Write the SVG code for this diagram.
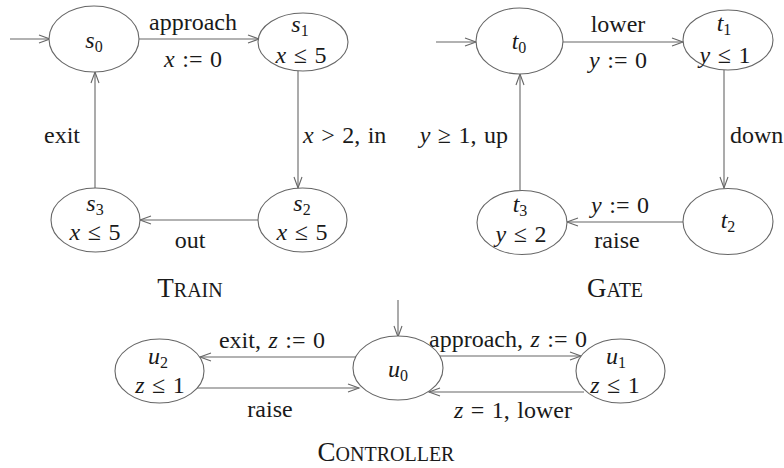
<svg xmlns="http://www.w3.org/2000/svg" width="784" height="468" viewBox="0 0 784 468" font-family="'Liberation Serif', 'DejaVu Serif', 'Times New Roman', serif">
<style>
text{font-family:'Liberation Serif','DejaVu Serif','Times New Roman',serif;font-size:24px;fill:#1a1a1a}
.m{text-anchor:middle}
.e{text-anchor:end}
.i{font-style:italic}
.w{word-spacing:1.5px}
.sub{font-size:16px}
.t{font-size:27px}
.sc{font-size:20px}
ellipse{fill:#fff;stroke:#666;stroke-width:1.1}
.c line{stroke:#666;stroke-width:1.1;marker-end:url(#a)}
</style>
<defs>
<marker id="a" markerUnits="userSpaceOnUse" markerWidth="14" markerHeight="12" viewBox="-12 -6 14 12" refX="0" refY="0" orient="auto">
<path d="M-11,-4 L0,0 L-11,4" fill="none" stroke="#666" stroke-width="1.1"/>
</marker>
</defs>
<rect width="784" height="468" fill="#fff"/>
<g class="c" id="connectors">
<line x1="10" y1="39" x2="50" y2="39"/>
<line x1="139" y1="39" x2="259" y2="39"/>
<line x1="298" y1="71" x2="298" y2="188"/>
<line x1="258" y1="220" x2="140" y2="220"/>
<line x1="95" y1="188" x2="95" y2="72"/>
<line x1="436" y1="42" x2="476" y2="42"/>
<line x1="563" y1="42" x2="683" y2="42"/>
<line x1="724" y1="70" x2="724" y2="188"/>
<line x1="683" y1="222" x2="567" y2="222"/>
<line x1="520" y1="190" x2="520" y2="74"/>
<line x1="398" y1="300" x2="398" y2="337"/>
<line x1="356" y1="357" x2="200" y2="357"/>
<line x1="197" y1="388" x2="359" y2="388"/>
<line x1="440" y1="356" x2="581" y2="356"/>
<line x1="584" y1="392" x2="429" y2="392"/>
</g>
<g id="edge-labels">
<text class="m" x="193" y="30">approach</text>
<text class="m w" x="193" y="67"><tspan class="i">x</tspan> := 0</text>
<text class="w" x="303" y="143"><tspan class="i">x</tspan> &gt; 2, in</text>
<text class="m" x="190" y="248">out</text>
<text class="m" x="62" y="143">exit</text>
<text class="m" x="618" y="32">lower</text>
<text class="m w" x="618" y="68"><tspan class="i">y</tspan> := 0</text>
<text x="730" y="143">down</text>
<text class="m w" x="620" y="213"><tspan class="i">y</tspan> := 0</text>
<text class="m" x="617" y="248">raise</text>
<text class="e w" x="508" y="143"><tspan class="i">y</tspan> ≥ 1, up</text>
<text class="m w" x="272" y="348">exit, <tspan class="i">z</tspan> := 0</text>
<text class="m" x="270" y="417">raise</text>
<text class="m w" x="508" y="347">approach, <tspan class="i">z</tspan> := 0</text>
<text class="m w" x="513" y="418"><tspan class="i">z</tspan> = 1, lower</text>
</g>
<g id="s0"><ellipse cx="94" cy="39" rx="45" ry="33"/><text class="m" x="94" y="48"><tspan class="i">s</tspan><tspan class="sub" dy="4">0</tspan></text></g>
<g id="s1"><ellipse cx="303" cy="42" rx="45" ry="29"/><text class="m" x="300" y="32"><tspan class="i">s</tspan><tspan class="sub" dy="4">1</tspan></text><text class="m w" x="301" y="63"><tspan class="i">x</tspan> ≤ 5</text></g>
<g id="s2"><ellipse cx="302.5" cy="220" rx="44.5" ry="32"/><text class="m" x="302" y="211"><tspan class="i">s</tspan><tspan class="sub" dy="4">2</tspan></text><text class="m w" x="302" y="240"><tspan class="i">x</tspan> ≤ 5</text></g>
<g id="s3"><ellipse cx="95.5" cy="220" rx="44.5" ry="32"/><text class="m" x="95" y="211"><tspan class="i">s</tspan><tspan class="sub" dy="4">3</tspan></text><text class="m w" x="95" y="240"><tspan class="i">x</tspan> ≤ 5</text></g>
<g id="t0"><ellipse cx="519.5" cy="41" rx="43.5" ry="33"/><text class="m" x="519" y="49"><tspan class="i">t</tspan><tspan class="sub" dy="4">0</tspan></text></g>
<g id="t1"><ellipse cx="728" cy="40" rx="45" ry="30"/><text class="m" x="724" y="31"><tspan class="i">t</tspan><tspan class="sub" dy="4">1</tspan></text><text class="m w" x="725" y="63"><tspan class="i">y</tspan> ≤ 1</text></g>
<g id="t2"><ellipse cx="728" cy="221.5" rx="45" ry="33"/><text class="m" x="728" y="228"><tspan class="i">t</tspan><tspan class="sub" dy="4">2</tspan></text></g>
<g id="t3"><ellipse cx="522" cy="222.5" rx="45" ry="32"/><text class="m" x="520" y="212"><tspan class="i">t</tspan><tspan class="sub" dy="4">3</tspan></text><text class="m w" x="521" y="242"><tspan class="i">y</tspan> ≤ 2</text></g>
<g id="u0"><ellipse cx="398" cy="368" rx="45" ry="32"/><text class="m" x="398" y="377"><tspan class="i">u</tspan><tspan class="sub" dy="4">0</tspan></text></g>
<g id="u1"><ellipse cx="620.5" cy="371" rx="44.5" ry="32"/><text class="m" x="616" y="364"><tspan class="i">u</tspan><tspan class="sub" dy="4">1</tspan></text><text class="m w" x="615" y="393"><tspan class="i">z</tspan> ≤ 1</text></g>
<g id="u2"><ellipse cx="159.5" cy="371" rx="44.5" ry="32"/><text class="m" x="158" y="364"><tspan class="i">u</tspan><tspan class="sub" dy="4">2</tspan></text><text class="m w" x="160" y="393"><tspan class="i">z</tspan> ≤ 1</text></g>
<g id="titles">
<text class="m t" x="190" y="297">T<tspan class="sc">RAIN</tspan></text>
<text class="m t" x="615" y="297">G<tspan class="sc">ATE</tspan></text>
<text class="m t" x="386" y="461">C<tspan class="sc">ONTROLLER</tspan></text>
</g>
</svg>
